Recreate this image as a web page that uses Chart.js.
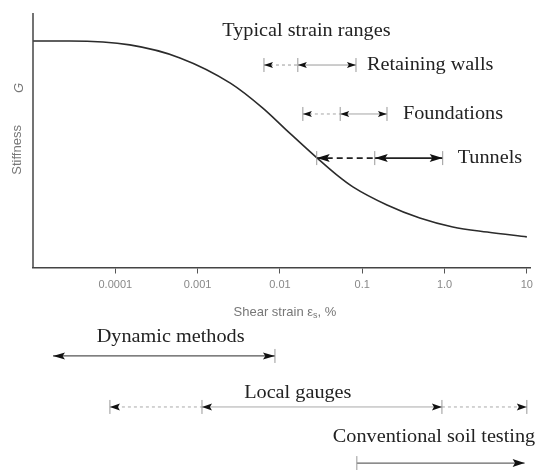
<!DOCTYPE html>
<html>
<head>
<meta charset="utf-8">
<title>Stiffness vs shear strain</title>
<script src="https://cdn.jsdelivr.net/npm/chart.js@4/dist/chart.umd.min.js"></script>
<style>
  html, body { margin: 0; padding: 0; background: #fff; }
  #wrap { width: 538px; height: 470px; }
</style>
</head>
<body>
<div id="wrap"><canvas id="stiffness" width="538" height="470"></canvas></div>
<script>
// curve: shear strain (%) vs normalised stiffness
const curveStrain = [1e-5, 2.8e-5, 1.5e-4, 6.1e-4, 0.0025, 0.0062, 0.012, 0.03, 0.049, 0.077, 0.2, 0.5, 1.26, 3.3, 10];
const curveStiffness = [0.89, 0.89, 0.875, 0.824, 0.725, 0.627, 0.541, 0.424, 0.365, 0.318, 0.247, 0.196, 0.161, 0.141, 0.122];

const tickValues = [0.0001, 0.001, 0.01, 0.1, 1, 10];
const tickLabels = ['0.0001', '0.001', '0.01', '0.1', '1.0', '10'];

// strain ranges (marks along each bar, in %)
const rangeNames = ['Retaining walls', 'Foundations', 'Tunnels', 'Dynamic methods', 'Local gauges', 'Conventional soil testing'];
const rangeMarks = [
    [0.0064, 0.0165, 0.084],
    [0.019, 0.054, 0.2],
    [0.028, 0.142, 0.95],
    [1.75e-5, 0.0087],
    [8.6e-5, 0.00113, 0.93, 10],
    [0.086, 9.4]
];

const serif = '19px "Liberation Serif", "Times New Roman", serif';
const sans = '"Liberation Sans", Arial, sans-serif';
const serifStretch = 1.065;

// how each range bar is drawn (level is in stiffness units so it follows the y scale)
const rowStyles = [
    { level: 0.796, marks: ['|<', '|<', '|>'], segs: ['dash', 'solid'], line: '#9a9a9a', width: 1, dash: [3, 3], headLen: 9, headHalf: 3, gap: 11 },
    { level: 0.604, marks: ['|<', '|<', '|>'], segs: ['dash', 'solid'], line: '#a5a5a5', width: 1, dash: [3, 3], headLen: 9, headHalf: 3, gap: 16 },
    { level: 0.431, marks: ['|<', '|<', '|>'], segs: ['dash', 'solid'], line: '#222', width: 1.6, dash: [6, 4], headLen: 13, headHalf: 4, gap: 15 },
    { level: -0.345, marks: ['<', '|>'], segs: ['solid'], line: '#555', width: 1.2, dash: [], headLen: 12, headHalf: 3.5, labelAt: 4.7e-4, labelLevel: -0.271, align: 'center' },
    { level: -0.545, marks: ['|<', '|<', '|>', '|>'], segs: ['dash', 'solid', 'dash'], line: '#aaa', width: 1, dash: [3, 3], headLen: 10, headHalf: 3.5, labelAt: 0.0165, labelLevel: -0.49, align: 'center' },
    { level: -0.765, marks: ['|', '>'], segs: ['solid'], line: '#666', width: 1.2, dash: [], headLen: 12, headHalf: 4, labelAt: 0.044, labelLevel: -0.663, align: 'left' }
];

function arrowHead(ctx, x, y, dir, len, half) {
    // dir -1: tip at x pointing left, +1: tip at x pointing right
    ctx.beginPath();
    ctx.moveTo(x, y);
    ctx.lineTo(x - dir * len, y - half);
    ctx.lineTo(x - dir * len * 0.8, y);
    ctx.lineTo(x - dir * len, y + half);
    ctx.closePath();
    ctx.fill();
}

function serifText(ctx, text, x, y, align) {
    ctx.save();
    ctx.translate(x, y);
    ctx.scale(serifStretch, 1);
    ctx.font = serif;
    ctx.textAlign = align;
    ctx.fillText(text, 0, 0);
    ctx.restore();
}

const annotations = {
    id: 'annotations',
    afterDatasetsDraw(chart) {
        const { ctx, scales: { x, y } } = chart;
        ctx.save();

        // y axis line, only over the stiffness range
        ctx.strokeStyle = '#444';
        ctx.lineWidth = 1.5;
        ctx.beginPath();
        ctx.moveTo(x.left, y.getPixelForValue(0));
        ctx.lineTo(x.left, y.getPixelForValue(1));
        ctx.stroke();

        // axis titles
        ctx.fillStyle = '#777';
        ctx.textBaseline = 'middle';
        ctx.save();
        ctx.translate(x.left - 16, y.getPixelForValue(0.463));
        ctx.rotate(-Math.PI / 2);
        ctx.textAlign = 'center';
        ctx.font = '13px ' + sans;
        ctx.fillText('Stiffness', 0, 0);
        ctx.restore();
        ctx.save();
        ctx.translate(x.left - 14, y.getPixelForValue(0.706));
        ctx.rotate(-Math.PI / 2);
        ctx.textAlign = 'center';
        ctx.font = 'italic 13px ' + sans;
        ctx.fillText('G', 0, 0);
        ctx.restore();

        const tx = x.getPixelForValue(0.0115);
        const ty = y.getPixelForValue(-0.173);
        ctx.font = '13px ' + sans;
        const t1 = 'Shear strain \u03b5', t2 = 's', t3 = ', %';
        const w1 = ctx.measureText(t1).width, w3 = ctx.measureText(t3).width;
        ctx.font = '9px ' + sans;
        const w2 = ctx.measureText(t2).width;
        const cx = tx - (w1 + w2 + w3) / 2;
        ctx.textAlign = 'left';
        ctx.font = '13px ' + sans;
        ctx.fillText(t1, cx, ty);
        ctx.font = '9px ' + sans;
        ctx.fillText(t2, cx + w1, ty + 3);
        ctx.font = '13px ' + sans;
        ctx.fillText(t3, cx + w1 + w2, ty);

        // heading of the upper group
        ctx.fillStyle = '#222';
        serifText(ctx, 'Typical strain ranges', x.getPixelForValue(0.021), y.getPixelForValue(0.929), 'center');

        // range bars
        rowStyles.forEach((row, r) => {
            const py = y.getPixelForValue(row.level);
            const px = rangeMarks[r].map(v => x.getPixelForValue(v));
            ctx.strokeStyle = row.line;
            ctx.lineWidth = row.width;
            row.segs.forEach((s, i) => {
                ctx.setLineDash(s === 'dash' ? row.dash : []);
                ctx.beginPath();
                ctx.moveTo(px[i], py);
                ctx.lineTo(px[i + 1], py);
                ctx.stroke();
            });
            ctx.setLineDash([]);
            row.marks.forEach((m, i) => {
                if (m.includes('|')) {
                    ctx.strokeStyle = '#999';
                    ctx.lineWidth = 1;
                    ctx.beginPath();
                    ctx.moveTo(px[i], py - 7);
                    ctx.lineTo(px[i], py + 7);
                    ctx.stroke();
                }
                ctx.fillStyle = '#111';
                if (m.includes('<')) arrowHead(ctx, px[i], py, -1, row.headLen, row.headHalf);
                if (m.includes('>')) arrowHead(ctx, px[i], py, 1, row.headLen, row.headHalf);
            });

            ctx.fillStyle = '#222';
            if (row.labelAt === undefined) {
                serifText(ctx, rangeNames[r], px[px.length - 1] + row.gap, py, 'left');
            } else {
                serifText(ctx, rangeNames[r], x.getPixelForValue(row.labelAt), y.getPixelForValue(row.labelLevel), row.align);
            }
        });
        ctx.restore();
    }
};

const ctx = document.getElementById('stiffness').getContext('2d');
new Chart(ctx, {
    type: 'line',
    data: {
        datasets: [{
            data: curveStrain.map((s, i) => ({ x: s, y: curveStiffness[i] })),
            borderColor: '#2b2b2b',
            borderWidth: 1.6,
            pointRadius: 0,
            cubicInterpolationMode: 'monotone',
            fill: false
        }]
    },
    options: {
        responsive: false,
        animation: false,
        events: [],
        layout: { padding: { left: 33, right: 7.5, top: 13, bottom: 0 } },
        plugins: { legend: { display: false }, tooltip: { enabled: false } },
        scales: {
            x: {
                type: 'logarithmic',
                min: 1e-5,
                max: 11,
                position: { y: 0 },
                border: { color: '#444', width: 1.5 },
                grid: { drawOnChartArea: false, drawTicks: true, tickLength: 5, color: '#555' },
                afterBuildTicks: scale => { scale.ticks = tickValues.map(v => ({ value: v })); },
                ticks: {
                    autoSkip: false,
                    maxRotation: 0,
                    padding: 5,
                    color: '#888',
                    font: { family: sans, size: 11 },
                    callback: (v, i) => tickLabels[i]
                }
            },
            y: {
                display: false,
                min: -0.7922,
                max: 1
            }
        }
    },
    plugins: [annotations]
});
</script>
</body>
</html>
